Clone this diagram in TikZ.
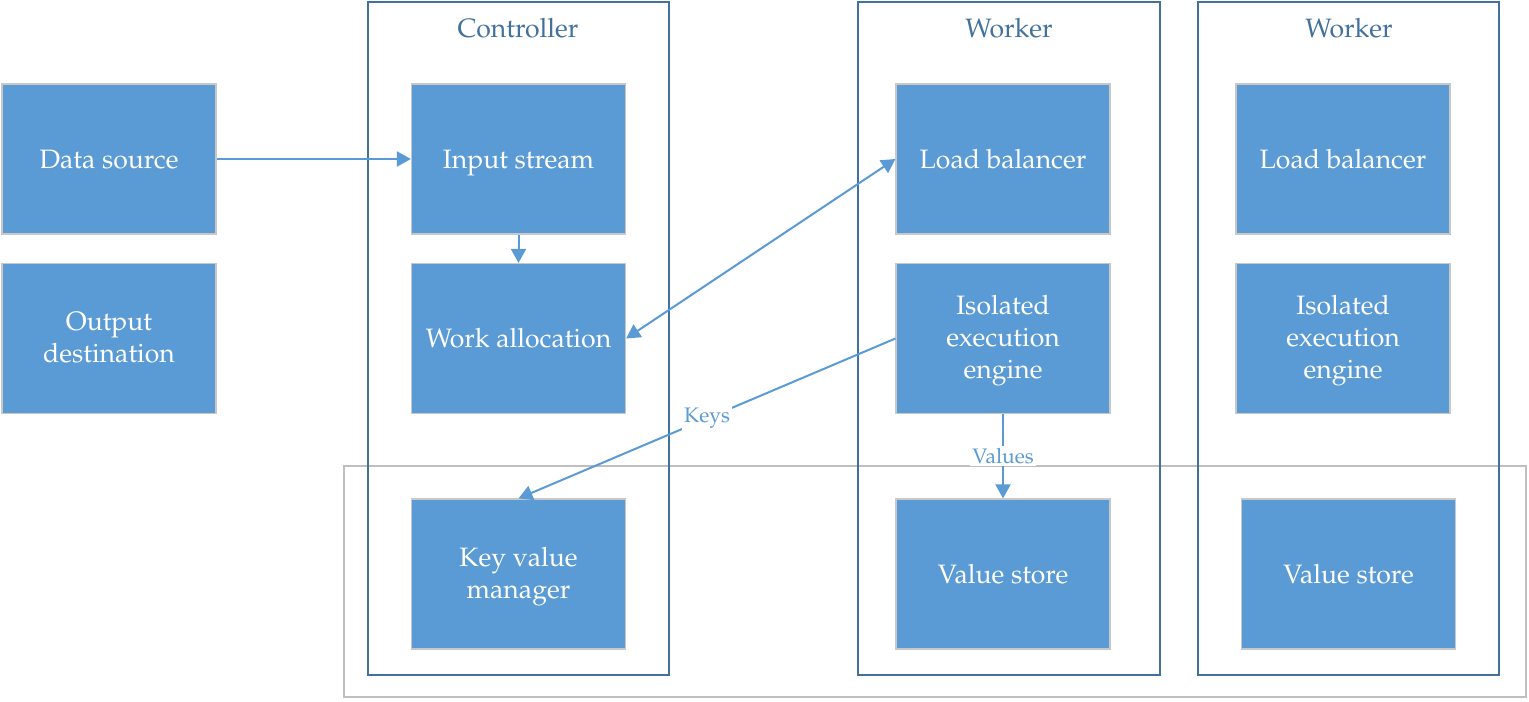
\documentclass[tikz,border=0pt]{standalone}
\usepackage[T1]{fontenc}
\usepackage{mathpazo}
\usepackage{xcolor}
\usetikzlibrary{arrows.meta}

\definecolor{boxblue}{HTML}{5B9BD5}
\definecolor{boxedge}{HTML}{C8C8C8}
\definecolor{frameblue}{HTML}{41719C}
\definecolor{storegray}{HTML}{BFBFBF}
\newcommand{\capstrut}{\rule{0pt}{13pt}}

\begin{document}
\begin{tikzpicture}[x=0.5pt,y=-0.5pt,
    block/.style={rectangle, fill=boxblue, draw=boxedge, line width=0.6pt,
      minimum width=107pt, minimum height=75pt, text=white, align=center,
      font=\fontsize{13.3}{16}\selectfont,
      execute at begin node=\rule{0pt}{14.2pt}, execute at end node=\strut},
    frame/.style={draw=frameblue, line width=1pt},
    title/.style={text=frameblue, font=\fontsize{13.3}{16}\selectfont},
    link/.style={draw=boxblue, line width=1pt, -{Triangle[length=7pt,width=7.5pt]}},
    tag/.style={fill=white, text=boxblue, inner sep=1pt, font=\fontsize{10.5}{12}\selectfont}]
  \useasboundingbox (0,0) rectangle (1529,701);

  % store area
  \draw[storegray, line width=1pt] (344,466) rectangle (1526,697);

  % containers
  \draw[frame] (368,2) rectangle (669,675);
  \draw[frame] (858,2) rectangle (1160,675);
  \draw[frame] (1198,2) rectangle (1499,675);
  \node[title] (ctrl) at (518,28) {Controller};
  \node[title] (wrka) at (1009,28) {Worker};
  \node[title] (wrkb) at (1349,28) {Worker};

  % outside
  \node[block] (src) at (109,159) {Data source};
  \node[block] (dst) at (109,338.5) {\capstrut Output\\destination};

  % controller
  \node[block] (input) at (518.5,159) {Input stream};
  \node[block] (alloc) at (518.5,338.5) {Work allocation};
  \node[block] (kvm) at (518.5,574) {\capstrut Key value\\manager};

  % first worker
  \node[block] (lba) at (1003,159) {Load balancer};
  \node[block] (enga) at (1003,338.5) {\capstrut Isolated\\execution\\engine};
  \node[block] (vsa) at (1003,574) {Value store};

  % second worker
  \node[block] (lbb) at (1343,159) {Load balancer};
  \node[block] (engb) at (1343,338.5) {\capstrut Isolated\\execution\\engine};
  \node[block] (vsb) at (1348.5,574) {Value store};

  % links
  \draw[link] (src) -- (input);
  \draw[link] (input) -- (alloc);
  \draw[link, {Triangle[length=7pt,width=7.5pt]}-{Triangle[length=7pt,width=7.5pt]}] (alloc.east) -- (lba.west);
  \draw[link] (enga.west) -- node[tag] {Keys} (kvm.north);
  \draw[link] (enga) -- node[tag] {Values} (vsa);
\end{tikzpicture}
\end{document}
